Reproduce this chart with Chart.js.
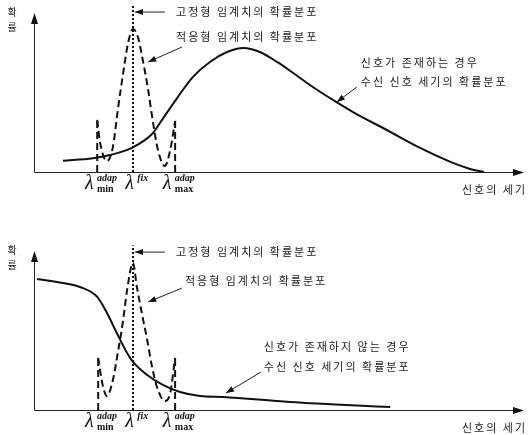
<!DOCTYPE html>
<html lang="ko">
<head>
<meta charset="UTF-8" />
<title>신호 세기의 확률분포와 임계치</title>
<script src="https://cdn.jsdelivr.net/npm/chart.js"></script>
<style>
  body { margin: 0; background: #fff; }
  canvas { display: block; }
</style>
</head>
<body>
<canvas id="chartTop" width="528" height="218"></canvas>
<canvas id="chartBottom" width="528" height="217"></canvas>
<script>
  // x: 신호의 세기 (0~100), y: 확률 (0~100) - 그림에서 읽은 값
  // 위 그림: 신호가 존재하는 경우
  const presentX = [5.9, 12.0, 15.5, 20.2, 24.3, 25.7, 29.2, 32.4, 35.9, 39.4, 42.7, 46.1, 49.6, 52.9, 56.3, 61.0, 65.1, 72.0, 78.8, 85.5, 89.0, 91.8];
  const presentY = [6.7, 8.2, 10.1, 14.7, 23.2, 29.2, 44.0, 56.5, 65.5, 71.4, 73.8, 71.4, 65.5, 58.9, 51.8, 42.9, 35.7, 25.0, 14.3, 5.4, 1.8, 0];
  const adapTopX = [12.9, 13.5, 14.9, 16.1, 17.1, 18.2, 19.2, 20.2, 21.2, 22.2, 23.3, 24.3, 25.3, 26.7, 27.8, 28.8];
  const adapTopY = [31.0, 17.3, 6.5, 14.9, 36.9, 58.9, 76.8, 85.1, 80.4, 66.7, 48.8, 29.2, 13.1, 3.6, 13.1, 30.4];

  // 아래 그림: 신호가 존재하지 않는 경우
  const absentX = [0.6, 5.9, 9.4, 12.9, 14.9, 16.9, 19.0, 20.2, 23.1, 26.3, 29.8, 33.9, 38.6, 52.2, 72.7];
  const absentY = [78.0, 75.6, 73.2, 67.3, 57.7, 45.8, 33.9, 28.6, 20.8, 14.9, 10.7, 8.3, 7.7, 4.8, 1.8];
  const adapBottomX = [13.1, 14.0, 14.9, 16.1, 17.1, 18.2, 19.0, 20.2, 21.0, 22.0, 23.1, 24.1, 25.1, 26.7, 27.8, 28.8];
  const adapBottomY = [31.0, 15.0, 8.3, 17.9, 33.9, 53.6, 71.4, 87.5, 73.2, 57.7, 41.7, 25.6, 13.7, 5.4, 10.1, 31.0];

  // 고정형 임계치 위치와 점선 높이
  const fixX = 20.2;
  const fixTopY = [99, 98];

  const axisTitleY = ['확', '률'];
  const axisTitleX = '신호의 세기';
  const topNotes = ['고정형 임계치의 확률분포', '적응형 임계치의 확률분포', '신호가 존재하는 경우', '수신 신호 세기의 확률분포'];
  const bottomNotes = ['고정형 임계치의 확률분포', '적응형 임계치의 확률분포', '신호가 존재하지 않는 경우', '수신 신호 세기의 확률분포'];

  const INK = '#111';
  const KFONT = '11px "Noto Sans CJK KR"';

  function pts(xs, ys) {
    return xs.map((x, i) => ({ x: x, y: ys[i] }));
  }

  function line(data, opts) {
    return Object.assign({
      data: data,
      borderColor: INK,
      borderWidth: 2,
      pointRadius: 0,
      fill: false,
      clip: false,
      tension: 0
    }, opts || {});
  }

  function arrowHead(ctx, x1, y1, x2, y2, len, half) {
    const a = Math.atan2(y2 - y1, x2 - x1);
    ctx.beginPath();
    ctx.moveTo(x2, y2);
    ctx.lineTo(x2 - len * Math.cos(a) + half * Math.sin(a), y2 - len * Math.sin(a) - half * Math.cos(a));
    ctx.lineTo(x2 - len * Math.cos(a) - half * Math.sin(a), y2 - len * Math.sin(a) + half * Math.cos(a));
    ctx.closePath();
    ctx.fill();
  }

  // 축, 화살표, 설명 글자 그리기
  const sketchPlugin = {
    id: 'sketch',
    beforeDatasetsDraw(chart) {
      const ctx = chart.ctx;
      const xs = chart.scales.x, ys = chart.scales.y;
      const left = Math.round(xs.getPixelForValue(0)) + 0.5;
      const bottom = Math.round(ys.getPixelForValue(0)) + 0.5;
      const tipY = ys.getPixelForValue(94.6);
      const tipX = xs.getPixelForValue(100);
      ctx.save();
      ctx.strokeStyle = '#222';
      ctx.fillStyle = '#111';
      ctx.lineWidth = 1;
      ctx.beginPath();
      ctx.moveTo(left, bottom);
      ctx.lineTo(left, tipY + 8);
      ctx.moveTo(left, bottom);
      ctx.lineTo(tipX - 8, bottom);
      ctx.stroke();
      arrowHead(ctx, left, bottom, left, tipY, 11, 3.5);
      arrowHead(ctx, left, bottom, tipX, bottom, 11, 3.5);
      ctx.restore();
    },
    afterDraw(chart) {
      const cfg = chart.options.plugins.sketch;
      const ctx = chart.ctx;
      const xs = chart.scales.x, ys = chart.scales.y;
      const px = v => xs.getPixelForValue(v);
      const py = v => ys.getPixelForValue(v);
      const bottom = py(0);
      const tipY = py(94.6);
      ctx.save();
      ctx.fillStyle = '#222';
      ctx.font = '10px "Noto Sans CJK KR"';
      ctx.textAlign = 'center';
      ctx.textBaseline = 'middle';
      ctx.fillText(axisTitleY[0], 12, tipY - 1);
      ctx.fillText(axisTitleY[1], 12, tipY + 14);

      ctx.font = KFONT;
      ctx.letterSpacing = '2px';
      ctx.textAlign = 'left';
      ctx.fillText(axisTitleX, 462, bottom + 18);
      cfg.notes.forEach((t, i) => {
        ctx.fillText(t, px(cfg.notePos[i][0]), py(cfg.notePos[i][1]));
      });
      ctx.letterSpacing = '0px';

      ctx.strokeStyle = '#222';
      ctx.fillStyle = '#111';
      ctx.lineWidth = 1;
      cfg.arrows.forEach(a => {
        const x1 = px(a[0]), y1 = py(a[1]), x2 = px(a[2]), y2 = py(a[3]);
        ctx.beginPath();
        ctx.moveTo(x1, y1);
        ctx.lineTo(x2, y2);
        ctx.stroke();
        arrowHead(ctx, x1, y1, x2, y2, 8, 3);
      });

      // 임계치 기호
      ctx.fillStyle = INK;
      ctx.textBaseline = 'alphabetic';
      const base = bottom + 17;
      const lam = (x, sup, sub) => {
        ctx.font = 'italic 20px "Liberation Serif"';
        ctx.fillText('λ', x, base);
        ctx.font = 'bold italic 10px "Liberation Serif"';
        ctx.fillText(sup, x + 12, base - 8);
        if (sub) {
          ctx.font = 'bold 10px "Liberation Serif"';
          ctx.fillText(sub, x + 12, base + 3);
        }
      };
      lam(px(10.4), 'adap', 'min');
      lam(px(18.6), 'fix', null);
      lam(px(26.3), 'adap', 'max');
      ctx.restore();
    }
  };

  function makeChart(id, padding, solid, adap, fixTop, sketch) {
    const first = adap[0], last = adap[adap.length - 1];
    new Chart(document.getElementById(id), {
      type: 'line',
      data: {
        datasets: [
          line(solid, { cubicInterpolationMode: 'monotone' }),
          line(adap, { borderDash: [7, 4], cubicInterpolationMode: 'monotone' }),
          line([{ x: first.x, y: 0 }, { x: first.x, y: first.y }], { borderDash: [7, 4] }),
          line([{ x: last.x, y: 0 }, { x: last.x, y: last.y }], { borderDash: [7, 4] }),
          line([{ x: fixX, y: 0 }, { x: fixX, y: fixTop }], { borderDash: [2, 2] })
        ]
      },
      options: {
        responsive: false,
        animation: false,
        devicePixelRatio: 1,
        layout: { padding: padding },
        scales: {
          x: { type: 'linear', min: 0, max: 100, display: false },
          y: { min: 0, max: 100, display: false }
        },
        plugins: {
          legend: { display: false },
          tooltip: { enabled: false },
          sketch: sketch
        }
      },
      plugins: [sketchPlugin]
    });
  }

  makeChart('chartTop', { left: 34, right: 4, top: 4, bottom: 46 },
    pts(presentX, presentY), pts(adapTopX, adapTopY), fixTopY[0], {
      notes: topNotes,
      notePos: [[29.0, 95.2], [29.0, 80.4], [66.7, 64.9], [66.7, 53.6]],
      arrows: [[26.7, 95.2, 20.6, 95.2], [30.2, 74.4, 23.3, 65.5], [65.9, 50.6, 61.8, 41.7]]
    });

  makeChart('chartBottom', { left: 34, right: 4, top: 24, bottom: 25 },
    pts(absentX, absentY), pts(adapBottomX, adapBottomY), fixTopY[1], {
      notes: bottomNotes,
      notePos: [[29.0, 94.0], [30.8, 76.8], [46.9, 37.5], [46.9, 25.6]],
      arrows: [[26.7, 94.0, 20.6, 94.0], [30.2, 72.6, 23.3, 64.3], [46.3, 22.6, 39.2, 10.1]]
    });
</script>
</body>
</html>
